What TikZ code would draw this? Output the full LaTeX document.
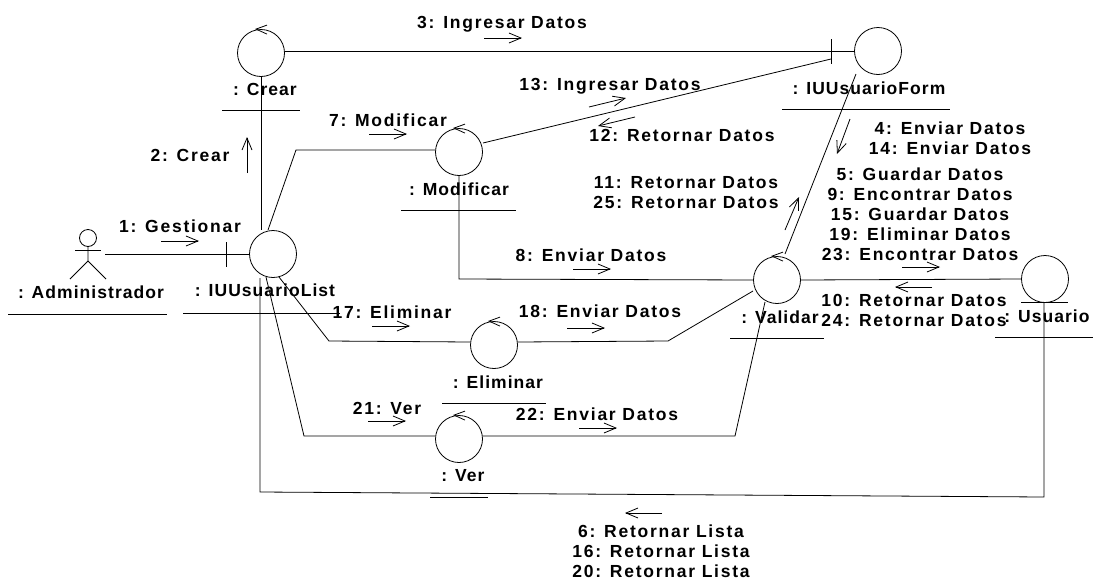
\documentclass[tikz,border=0pt]{standalone}
\usepackage{fontspec}
\setmainfont{Liberation Sans}[LetterSpace=6]
\usetikzlibrary{arrows.meta}
\tikzset{
  x=1pt,y=-1pt,
  lbl/.style={inner sep=0pt,font=\fontsize{17.5}{20}\selectfont\bfseries,align=center},
  mlbl/.style={inner sep=0pt,font=\fontsize{17.5}{20}\selectfont\bfseries\addfontfeature{LetterSpace=10},align=center},
  obj/.style={circle,draw,line width=0.8pt,minimum size=47pt,inner sep=0pt},
  conn/.style={line width=0.8pt},
  msg/.style={line width=0.8pt,-{Straight Barb[length=12pt,width=10pt,line width=0.8pt]}},
  ul/.style={line width=0.8pt}
}
\newcommand{\selfarrow}[1]{\draw[conn] (#1.north) ++(6,-4) -- ++(-11,4) -- ++(11,5);}
\begin{document}
\begin{tikzpicture}
\useasboundingbox (0,0) rectangle (1093,579);
% objects
\node[obj] (crear) at (261,53) {};
\node[obj] (list) at (273,254) {};
\node[obj] (modif) at (459,152) {};
\node[obj] (form) at (878,51) {};
\node[obj] (valid) at (777,280) {};
\node[obj] (usu) at (1045,279) {};
\node[obj] (elim) at (494,345) {};
\node[obj] (ver) at (459,439) {};
\selfarrow{crear}\selfarrow{modif}\selfarrow{valid}\selfarrow{elim}\selfarrow{ver}
% actor
\node[circle,draw,line width=0.8pt,minimum size=17pt,inner sep=0pt] (admin) at (88,238) {};
\coordinate (armL) at (75,250); \coordinate (armR) at (101,250);
\coordinate (hip) at (88,261); \coordinate (legL) at (70,279); \coordinate (legR) at (106,279);
\coordinate (adminR) at (105,254);
\draw[conn] (armL) -- (armR);
\draw[conn] (admin.south) -- (hip) -- (legL);
\draw[conn] (hip) -- (legR);
% labels and underlines
\node[lbl] (ladmin) at (91,292) {: Administrador};
\node[lbl] (llist) at (265,290) {: IUUsuarioList};
\node[lbl] (lcrear) at (265,89) {: Crear};
\node[lbl] (lmodif) at (459,189) {: Modificar};
\node[lbl] (lform) at (869,88) {: IUUsuarioForm};
\node[lbl] (lvalid) at (780,317) {: Validar};
\node[lbl] (lusu) at (1047,316) {: Usuario};
\node[lbl] (lelim) at (498,382) {: Eliminar};
\node[lbl] (lver) at (463,476) {: Ver};
\coordinate (u1a) at (8,314); \coordinate (u1b) at (167,314);
\coordinate (u2a) at (183,313); \coordinate (u2b) at (340,313);
\coordinate (u3a) at (222,110); \coordinate (u3b) at (300,110);
\coordinate (u4a) at (401,210); \coordinate (u4b) at (516,210);
\coordinate (u5a) at (782,109); \coordinate (u5b) at (950,109);
\coordinate (u6a) at (730,338); \coordinate (u6b) at (824,338);
\coordinate (u7a) at (995,337); \coordinate (u7b) at (1093,337);
\coordinate (u8a) at (442,403); \coordinate (u8b) at (546,403);
\coordinate (u9a) at (430,497); \coordinate (u9b) at (488,497);
\coordinate (u10a) at (1021,302); \coordinate (u10b) at (1068,302);
\foreach \i in {1,...,10} {\draw[ul] (u\i a) -- (u\i b);}
% connectors
\coordinate (tickA) at (226,242); \coordinate (tickB) at (226,267);
\draw[conn] (adminR) -- (list.west);
\draw[conn] (tickA) -- (tickB);
\coordinate (listTop) at (261,230);
\draw[conn] (crear.south) -- (listTop);
\coordinate (tickC) at (831,39); \coordinate (tickD) at (831,64);
\coordinate (crearR) at (285,51);
\draw[conn] (crearR) -- (form.west);
\draw[conn] (tickC) -- (tickD);
\coordinate (modifR) at (483,143); \coordinate (formL) at (831,59);
\draw[conn] (modifR) -- (formL);
\coordinate (listA) at (268,230); \coordinate (bendA) at (296,150); \coordinate (modifL) at (435,150);
\draw[conn] (listA) -- (bendA) -- (modifL);
\coordinate (bendB) at (459,279);
\draw[conn] (modif.south) -- (bendB) -- (valid.west);
\coordinate (validA) at (785,254); \coordinate (formB) at (856,74);
\draw[conn] (validA) -- (formB);
\draw[conn] (valid.east) -- (usu.west);
\coordinate (listC) at (279,277); \coordinate (bendC) at (329,341); \coordinate (elimL) at (470,342);
\draw[conn] (listC) -- (bendC) -- (elimL);
\coordinate (elimR) at (518,342); \coordinate (bendD) at (668,341); \coordinate (validC) at (753,291);
\draw[conn] (elimR) -- (bendD) -- (validC);
\coordinate (listD) at (266,277); \coordinate (bendE) at (304,436); \coordinate (verL) at (435,436);
\draw[conn] (listD) -- (bendE) -- (verL);
\coordinate (verR) at (483,436); \coordinate (bendF) at (735,436); \coordinate (validD) at (765,302);
\draw[conn] (verR) -- (bendF) -- (validD);
\coordinate (usuB) at (1044,302); \coordinate (bendG) at (1044,497); \coordinate (bendH) at (260,492); \coordinate (listE) at (260,278);
\draw[conn] (usuB) -- (bendG) -- (bendH) -- (listE);
% message arrows
\coordinate (a1) at (161,241); \coordinate (b1) at (199,241);
\coordinate (a2) at (247,173); \coordinate (b2) at (247,137);
\coordinate (a3) at (484,38); \coordinate (b3) at (522,38);
\coordinate (a7) at (369,134); \coordinate (b7) at (407,134);
\coordinate (a13) at (589,107); \coordinate (b13) at (626,98);
\coordinate (a12) at (635,117); \coordinate (b12) at (598,126);
\coordinate (a4) at (850,119); \coordinate (b4) at (837,154);
\coordinate (a11) at (785,230); \coordinate (b11) at (799,197);
\coordinate (a5) at (902,267); \coordinate (b5) at (940,267);
\coordinate (a10) at (932,287); \coordinate (b10) at (895,287);
\coordinate (a8) at (573,269); \coordinate (b8) at (611,269);
\coordinate (a18) at (567,328); \coordinate (b18) at (605,328);
\coordinate (a17) at (372,326); \coordinate (b17) at (410,326);
\coordinate (a21) at (368,421); \coordinate (b21) at (406,421);
\coordinate (a22) at (579,428); \coordinate (b22) at (617,428);
\coordinate (a6) at (662,513); \coordinate (b6) at (625,513);
\foreach \i in {1,2,3,7,13,12,4,11,5,10,8,18,17,21,22,6} {\draw[msg] (a\i) -- (b\i);}
% message labels
\node[mlbl] (m1) at (180,226) {1: Gestionar};
\node[mlbl] (m2) at (190,155) {2: Crear};
\node[mlbl] (m3) at (502,24) {3: Ingresar Datos};
\node[mlbl] (m7) at (388,120) {7: Modificar};
\node[mlbl] (m13) at (610,86) {13: Ingresar Datos};
\node[mlbl] (m12) at (682,135) {12: Retornar Datos};
\node[mlbl] (m4) at (950,138) {4: Enviar Datos\\14: Enviar Datos};
\node[mlbl] (m5) at (920,214) {5: Guardar Datos\\9: Encontrar Datos\\15: Guardar Datos\\19: Eliminar Datos\\23: Encontrar Datos};
\node[mlbl] (m11) at (686,193) {11: Retornar Datos\\25: Retornar Datos};
\node[mlbl] (m8) at (591,255) {8: Enviar Datos};
\node[mlbl] (m18) at (600,311) {18: Enviar Datos};
\node[mlbl] (m17) at (392,312) {17: Eliminar};
\node[mlbl] (m21) at (387,408) {21: Ver};
\node[mlbl] (m22) at (597,414) {22: Enviar Datos};
\node[mlbl] (m10) at (914,310) {10: Retornar Datos\\24: Retornar Datos};
\node[mlbl] (m6) at (661,551) {6: Retornar Lista\\16: Retornar Lista\\20: Retornar Lista};
\end{tikzpicture}
\end{document}
